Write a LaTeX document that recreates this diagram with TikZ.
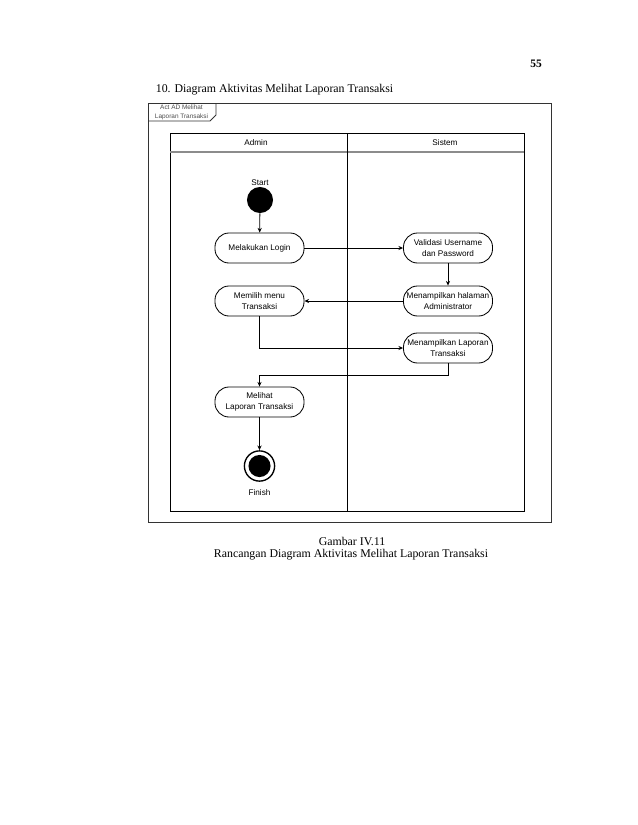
\documentclass[tikz,border=0pt]{standalone}
\usepackage{fontspec}
\setmainfont{Liberation Serif}
\newfontfamily\diagfont{Liberation Sans}
\usetikzlibrary{arrows.meta}

\tikzstyle{activity} = [draw, rectangle, rounded corners=13.5bp, minimum width=85.4bp, minimum height=28.8bp, align=center, inner sep=1pt, font=\diagfont\fontsize{7.9}{10.5}\selectfont]
\tikzstyle{startdot} = [circle, fill, minimum size=25bp, inner sep=0pt]
\tikzstyle{enddot} = [circle, draw, line width=1.3bp, minimum size=29bp, inner sep=0pt, path picture={\fill (path picture bounding box.center) circle (10.6bp);}]
\tikzstyle{small} = [font=\diagfont\fontsize{7.9}{9}\selectfont]
\tikzstyle{flow} = [-{Stealth[length=4.5bp,width=4bp]}, line width=0.8bp]

\begin{document}
\begin{tikzpicture}[x=0.9592bp, y=-0.9592bp, line width=0.8bp]
\useasboundingbox (0,0) rectangle (638,825);
% page text
\node[font=\fontsize{11}{13}\selectfont\bfseries] (page) at (536,64) {55};
\node[anchor=west, font=\fontsize{11.4}{13}\selectfont] (title) at (152,90) {10. Diagram Aktivitas Melihat Laporan Transaksi};
\node[font=\fontsize{11.4}{13}\selectfont] (cap1) at (352,541) {Gambar IV.11};
\node[font=\fontsize{11.4}{13}\selectfont] (cap2) at (351,555) {Rancangan Diagram Aktivitas Melihat Laporan Transaksi};

% frame and tab
\draw[draw=black!80] (148,103) rectangle (551,522);
\draw[draw=black!80] (148,121) -- (210,121) -- (216,115) -- (216,103);
\node[align=center, font=\diagfont\fontsize{6.2}{8.8}\selectfont, text=black!70] (tab) at (181.5,112.5) {Act AD Melihat\\Laporan Transaksi};

% swimlanes
\draw (170,133) rectangle (524,511);
\draw[draw=black!45, line width=1.2bp] (170,152) -- (524,152);
\draw (347,133) -- (347,511);
\node[small] (admin) at (256,143) {Admin};
\node[small] (sistem) at (445,143) {Sistem};

% nodes
\node[startdot, label={[small, inner sep=1pt]above:Start}] (start) at (260,200) {};
\node[activity] (login) at (259.5,248) {Melakukan Login};
\node[activity] (validasi) at (448,248) {Validasi Username\\dan Password};
\node[activity] (halaman) at (448,301) {Menampilkan halaman\\Administrator};
\node[activity] (menu) at (259.5,301) {Memilih menu\\Transaksi};
\node[activity] (laporan) at (448,348) {Menampilkan Laporan\\Transaksi};
\node[activity] (melihat) at (259.5,402) {Melihat\\Laporan Transaksi};
\node[enddot, label={[small, inner sep=7pt]below:Finish}] (finish) at (259.5,466) {};
\coordinate (turn) at (448,375);

% connectors
\draw[flow] (start) -- (login);
\draw[flow] (login) -- (validasi);
\draw[flow] (validasi) -- (halaman);
\draw[flow] (halaman) -- (menu);
\draw[flow] (menu) |- (laporan);
\draw[flow] (laporan) -- (turn) -| (melihat);
\draw[flow] (melihat) -- (finish);
\end{tikzpicture}
\end{document}
